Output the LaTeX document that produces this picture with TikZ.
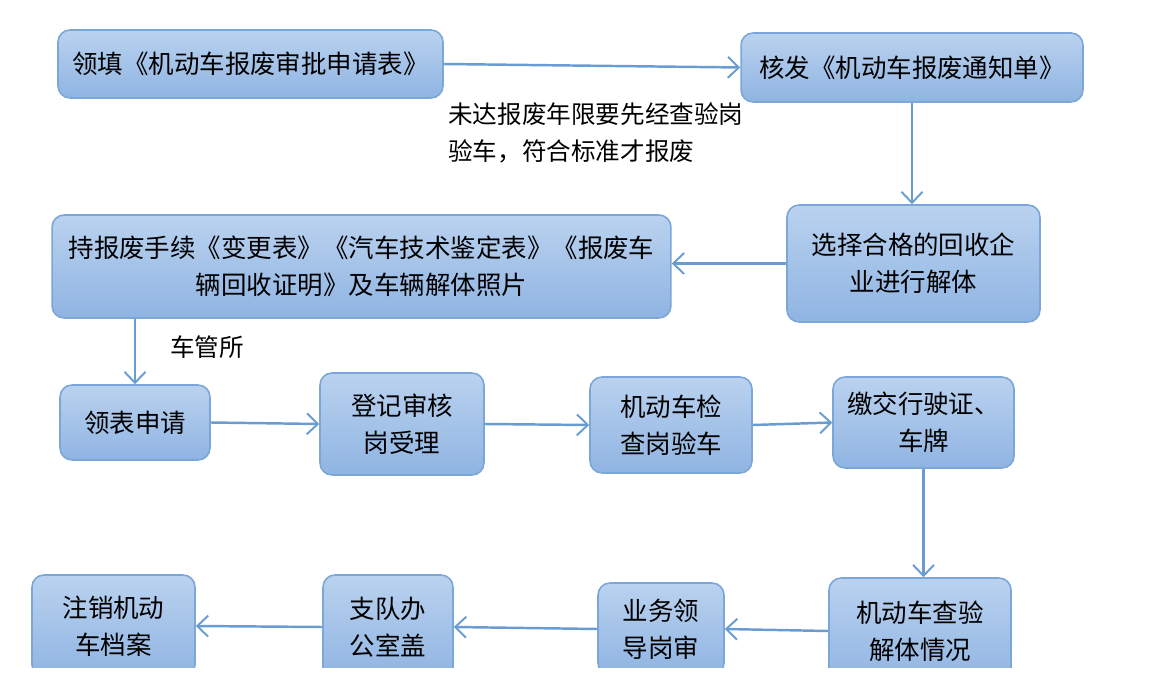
\documentclass[tikz,border=0pt]{standalone}
\usepackage{fontspec}
\setmainfont{Noto Sans CJK SC}
\usepackage{tikz}
\usetikzlibrary{arrows.meta}

\definecolor{boxtop}{HTML}{BAD2EF}
\definecolor{boxbot}{HTML}{8FB4E2}
\definecolor{boxline}{HTML}{7BA6D8}
\definecolor{flowline}{HTML}{6A9CD4}

\tikzset{
	stepbox/.style={rectangle, rounded corners=0.24cm, draw=boxline, line width=0.9pt,
		top color=boxtop, bottom color=boxbot, align=center, inner sep=0pt,
		font=\fontsize{14.5}{21}\selectfont},
	flow/.style={draw=flowline, line width=1.4pt, -{Straight Barb[length=0.22cm, width=0.42cm, line width=1.1pt]}},
	note/.style={font=\fontsize{14}{21}\selectfont, inner sep=0pt}
}

\begin{document}
\begin{tikzpicture}[x=0.02cm, y=-0.02cm]
	\useasboundingbox (0,0) rectangle (1175,695);
	
	\begin{scope}
		\clip (0,0) rectangle (1175,667);
		% top row
		\node [stepbox, minimum width=7.7cm, minimum height=1.36cm] (apply) at (250.5,64) {领填《机动车报废审批申请表》};
		\node [stepbox, minimum width=6.84cm, minimum height=1.38cm] (notice) at (912,67.5) {核发《机动车报废通知单》};
		
		% second row
		\node [stepbox, minimum width=5.06cm, minimum height=2.34cm] (dismantle) at (913.5,263.5) {选择合格的回收企\\业进行解体};
		\node [stepbox, minimum width=12.38cm, minimum height=2.06cm] (papers) at (361.5,266.5) {持报废手续《变更表》《汽车技术鉴定表》《报废车\\辆回收证明》及车辆解体照片};
		
		% third row
		\node [stepbox, minimum width=3.0cm, minimum height=1.5cm] (form) at (135,422.5) {领表申请};
		\node [stepbox, minimum width=3.28cm, minimum height=2.04cm] (register) at (402,424) {登记审核\\岗受理};
		\node [stepbox, minimum width=3.24cm, minimum height=1.92cm] (inspect) at (671,425) {机动车检\\查岗验车};
		\node [stepbox, minimum width=3.62cm, minimum height=1.82cm] (plates) at (923.5,422.5) {缴交行驶证、\\车牌};
		
		% bottom row
		\node [stepbox, minimum width=3.64cm, minimum height=2.12cm] (check) at (920,631) {机动车查验\\解体情况};
		\node [stepbox, minimum width=2.52cm, minimum height=1.84cm] (leader) at (661,629) {业务领\\导岗审};
		\node [stepbox, minimum width=2.6cm, minimum height=2.08cm] (office) at (388,627) {支队办\\公室盖};
		\node [stepbox, minimum width=3.26cm, minimum height=2.04cm] (cancel) at (113.5,626) {注销机动\\车档案};
	\end{scope}
	
	\node [note, anchor=north west, align=left] (limit) at (448,102) {未达报废年限要先经查验岗\\验车，符合标准才报废};
	\node [note] (office2) at (207,347) {车管所};
	
	\begin{scope}[flow]
		\draw (apply.east) -- (notice.west);
		\draw (notice.south) -- (notice.south |- dismantle.north);
		\draw (dismantle.west) -- (dismantle.west -| papers.east);
		\draw (form |- papers.south) -- (form.north);
		\draw (form.east) -- (register.west);
		\draw (register.east) -- (inspect.west);
		\draw (inspect.east) -- (plates.west);
		\draw (plates.south) -- (plates.south |- check.north);
		\draw (check.west) -- (leader.east);
		\draw (leader.west) -- (office.east);
		\draw (office.west) -- (cancel.east);
	\end{scope}
\end{tikzpicture}
\end{document}
